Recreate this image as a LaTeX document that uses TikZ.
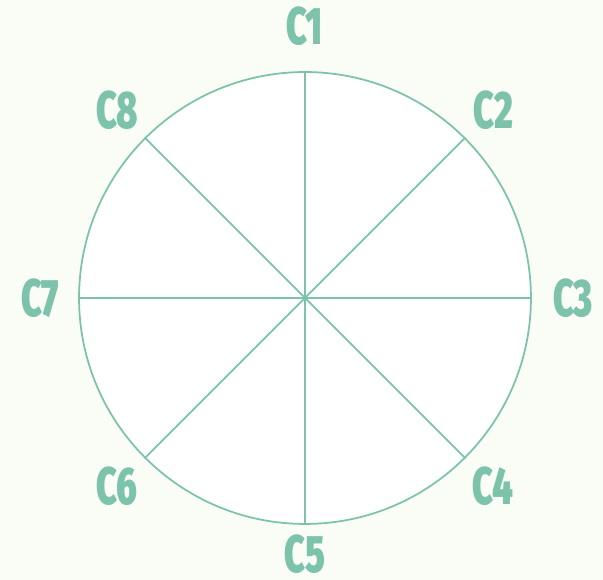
\documentclass[tikz,border=0pt]{standalone}
\usepackage{fontspec}
\usepackage{tikz}
\usetikzlibrary{positioning,calc}
\newfontfamily\capfont{Fira Sans}[FakeStretch=0.68,BoldFont={* Black}]
\definecolor{sage}{RGB}{125,195,172}
\definecolor{paper}{RGB}{250,253,246}
\tikzset{
    ring/.style={circle,draw=sage,line width=1pt,fill=white,minimum size=9.04cm,inner sep=0pt},
    spoke/.style={draw=sage,line width=1pt},
    caplabel/.style={text=sage,font=\capfont\bfseries\fontsize{30}{30}\selectfont,inner sep=0pt},
}
\begin{document}
\begin{tikzpicture}[x=0.02cm,y=0.02cm]
\fill[paper] (0,0) rectangle (603,580);
\useasboundingbox (0,0) rectangle (603,580);
\node[ring] (ring) at (305,282) {};
\foreach \a in {90,45,...,-225}
    \draw[spoke] (ring.center) -- (ring.\a);
\foreach \i/\a/\r in {1/90/272,2/45/266,3/0/268,4/-45/266,5/-90/256,6/-135/266,7/-180/265,8/-225/266}
    \node[caplabel] (c\i) at ($(ring.center)+(\a:\r)$) {C\i};
\end{tikzpicture}
\end{document}
